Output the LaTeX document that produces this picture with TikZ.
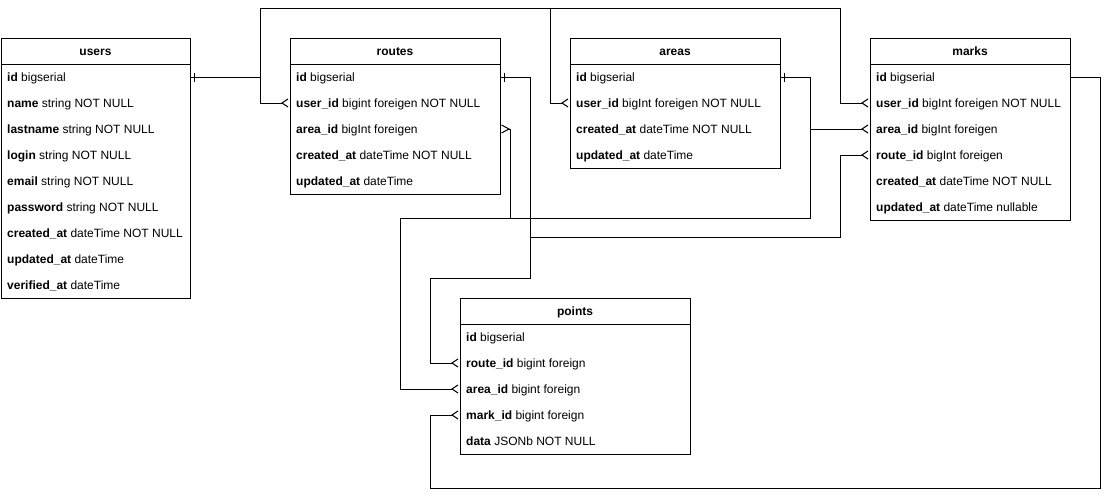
\documentclass[tikz,border=0pt]{standalone}
\usepackage{fontspec}
\setmainfont{Liberation Sans}
\usetikzlibrary{calc}
\newcommand\ertable[6]{%
  \node[tbl, minimum width=#4pt, minimum height=#5pt] (#1) at (#2,#3) {};
  \node[ttl] (#1-title) at ($(#1.north)+(0,13)$) {#6};
  \draw[rel] ($(#1.north west)+(0,26)$) -- ($(#1.north east)+(0,26)$);
}
\newcommand\ferow[4]{%
  \node[fld] (#1-#2) at ($(#1.north west)+(6,{39+26*#3+4.3})$) {#4};
}
\newcommand\crowW[1]{\draw[rel] ($(#1)+(-2,-4)$) -- ($(#1)+(-8,0)$) -- ($(#1)+(-2,4)$);}
\newcommand\crowE[1]{\draw[rel] ($(#1)+(1.5,-4)$) -- ($(#1)+(9,0)$) -- ($(#1)+(1.5,4)$);}
\newcommand\tickE[1]{\draw[rel] ($(#1)+(4,-4.5)$) -- ($(#1)+(4,4.5)$);}
\begin{document}
\begin{tikzpicture}[x=1pt,y=-1pt,
  tbl/.style={draw, line width=1pt, fill=white, anchor=north west, inner sep=0pt, outer sep=0pt},
  ttl/.style={inner sep=0pt, text height=8.6pt, text depth=0pt, font=\bfseries\fontsize{12}{14}\selectfont},
  fld/.style={anchor=base west, inner sep=0pt, text height=8.6pt, text depth=0pt, font=\fontsize{12}{14}\selectfont},
  rel/.style={draw=black, line width=1pt},
  manyend/.style={rel, shorten >=8pt}]
\fill[white] (0,0) rectangle (1110,498);
\useasboundingbox (0,0) rectangle (1110,498);

% tables
\ertable{users}{1}{38}{189}{260}{users}
\ferow{users}{id}{0}{\textbf{id} bigserial}
\ferow{users}{name}{1}{\textbf{name} string NOT NULL}
\ferow{users}{lastname}{2}{\textbf{lastname} string NOT NULL}
\ferow{users}{login}{3}{\textbf{login} string NOT NULL}
\ferow{users}{email}{4}{\textbf{email} string NOT NULL}
\ferow{users}{password}{5}{\textbf{password} string NOT NULL}
\ferow{users}{created}{6}{\textbf{created\_at} dateTime NOT NULL}
\ferow{users}{updated}{7}{\textbf{updated\_at} dateTime}
\ferow{users}{verified}{8}{\textbf{verified\_at} dateTime}

\ertable{routes}{290}{38}{210}{156}{routes}
\ferow{routes}{id}{0}{\textbf{id} bigserial}
\ferow{routes}{user}{1}{\textbf{user\_id} bigint foreigen NOT NULL}
\ferow{routes}{area}{2}{\textbf{area\_id} bigInt foreigen}
\ferow{routes}{created}{3}{\textbf{created\_at} dateTime NOT NULL}
\ferow{routes}{updated}{4}{\textbf{updated\_at} dateTime}

\ertable{areas}{570}{38}{210}{130}{areas}
\ferow{areas}{id}{0}{\textbf{id} bigserial}
\ferow{areas}{user}{1}{\textbf{user\_id} bigInt foreigen NOT NULL}
\ferow{areas}{created}{2}{\textbf{created\_at} dateTime NOT NULL}
\ferow{areas}{updated}{3}{\textbf{updated\_at} dateTime}

\ertable{marks}{870}{38}{200}{182}{marks}
\ferow{marks}{id}{0}{\textbf{id} bigserial}
\ferow{marks}{user}{1}{\textbf{user\_id} bigInt foreigen NOT NULL}
\ferow{marks}{area}{2}{\textbf{area\_id} bigInt foreigen}
\ferow{marks}{route}{3}{\textbf{route\_id} bigInt foreigen}
\ferow{marks}{created}{4}{\textbf{created\_at} dateTime NOT NULL}
\ferow{marks}{updated}{5}{\textbf{updated\_at} dateTime nullable}

\ertable{points}{460}{298}{230}{156}{points}
\ferow{points}{id}{0}{\textbf{id} bigserial}
\ferow{points}{route}{1}{\textbf{route\_id} bigint foreign}
\ferow{points}{area}{2}{\textbf{area\_id} bigint foreign}
\ferow{points}{mark}{3}{\textbf{mark\_id} bigint foreign}
\ferow{points}{data}{4}{\textbf{data} JSONb NOT NULL}

% connection points
\coordinate (p-users-id) at (users.east |- users-id);
\coordinate (p-routes-id) at (routes.east |- routes-id);
\coordinate (p-areas-id) at (areas.east |- areas-id);
\coordinate (p-marks-id) at (marks.east |- marks-id);
\coordinate (p-routes-user) at (routes.west |- routes-user);
\coordinate (p-routes-area) at (routes.east |- routes-area);
\coordinate (p-areas-user) at (areas.west |- areas-user);
\coordinate (p-marks-user) at (marks.west |- marks-user);
\coordinate (p-marks-area) at (marks.west |- marks-area);
\coordinate (p-marks-route) at (marks.west |- marks-route);
\coordinate (p-points-route) at (points.west |- points-route);
\coordinate (p-points-area) at (points.west |- points-area);
\coordinate (p-points-mark) at (points.west |- points-mark);

% connectors
\draw[manyend] (p-users-id) -- ++(70,0) |- (p-routes-user);
\draw[manyend] (p-users-id) -- ++(70,0) -- ++(0,-69) -| ($(p-areas-user)+(-20,0)$) -- (p-areas-user);
\draw[manyend] (p-users-id) -- ++(70,0) -- ++(0,-69) -| ($(p-marks-user)+(-30,0)$) -- (p-marks-user);
\draw[manyend] (p-routes-id) -- ++(30,0) -- ++(0,160) -| ($(p-marks-route)+(-30,0)$) -- (p-marks-route);
\draw[manyend] (p-routes-id) -- ++(30,0) -- ++(0,201) -| ($(p-points-route)+(-30,0)$) -- (p-points-route);
\draw[manyend] (p-areas-id) -- ++(30,0) -- ++(0,141) -| ($(p-routes-area)+(10,0)$) -- (p-routes-area);
\draw[manyend] (p-areas-id) -- ++(30,0) |- (p-marks-area);
\draw[manyend] (p-areas-id) -- ++(30,0) -- ++(0,141) -| ($(p-points-area)+(-60,0)$) -- (p-points-area);
\draw[manyend] (p-marks-id) -- ++(30,0) -- ++(0,411) -| ($(p-points-mark)+(-30,0)$) -- (p-points-mark);

% one ends
\tickE{p-users-id}
\tickE{p-routes-id}
\tickE{p-areas-id}

% many ends
\crowW{p-routes-user}
\crowW{p-areas-user}
\crowW{p-marks-user}
\crowW{p-marks-area}
\crowW{p-marks-route}
\crowW{p-points-route}
\crowW{p-points-area}
\crowW{p-points-mark}
\crowE{p-routes-area}
\end{tikzpicture}
\end{document}
